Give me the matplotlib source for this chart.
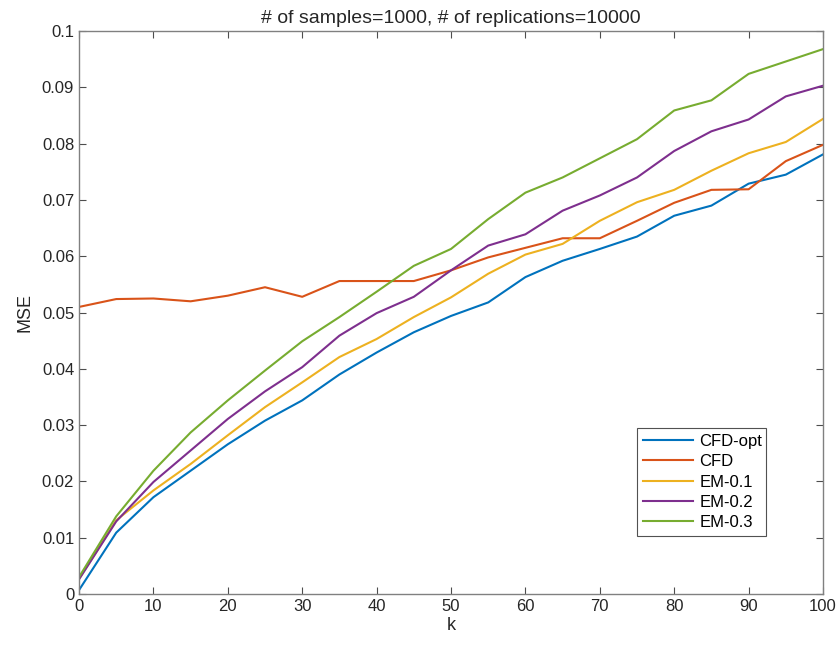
import numpy as np
import matplotlib.pyplot as plt

plt.rcParams['font.family'] = ['Liberation Sans', 'DejaVu Sans']

k = [0, 5, 10, 15, 20, 25, 30, 35, 40, 45, 50, 55, 60, 65, 70, 75, 80, 85, 90, 95, 100]

cfd_opt = [0.0007, 0.0109, 0.0172, 0.0219, 0.0266, 0.0308, 0.0344, 0.0390, 0.0429, 0.0465, 0.0494,
           0.0518, 0.0563, 0.0592, 0.0613, 0.0635, 0.0672, 0.0690, 0.0729, 0.0745, 0.0781]
cfd = [0.0510, 0.0524, 0.0525, 0.0520, 0.0530, 0.0545, 0.0528, 0.0556, 0.0556, 0.0556, 0.0575,
       0.0598, 0.0615, 0.0632, 0.0632, 0.0663, 0.0695, 0.0718, 0.0719, 0.0769, 0.0798]
em_01 = [0.0027, 0.0131, 0.0184, 0.0231, 0.0282, 0.0332, 0.0376, 0.0421, 0.0453, 0.0492, 0.0527,
         0.0569, 0.0603, 0.0622, 0.0663, 0.0696, 0.0718, 0.0752, 0.0783, 0.0803, 0.0844]
em_02 = [0.0026, 0.0129, 0.0199, 0.0255, 0.0311, 0.0360, 0.0403, 0.0459, 0.0499, 0.0528, 0.0575,
         0.0619, 0.0639, 0.0681, 0.0708, 0.0740, 0.0787, 0.0822, 0.0843, 0.0884, 0.0903]
em_03 = [0.0030, 0.0138, 0.0219, 0.0287, 0.0344, 0.0397, 0.0449, 0.0492, 0.0537, 0.0583, 0.0613,
         0.0666, 0.0713, 0.0740, 0.0774, 0.0808, 0.0859, 0.0877, 0.0924, 0.0946, 0.0968]

series = [cfd_opt, cfd, em_01, em_02, em_03]
labels = ['CFD-opt', 'CFD', 'EM-0.1', 'EM-0.2', 'EM-0.3']
colors = [(0, 0.447, 0.741), (0.85, 0.325, 0.098), (0.929, 0.694, 0.125),
          (0.494, 0.184, 0.556), (0.466, 0.674, 0.188)]

fig = plt.figure(figsize=(8.38, 6.48), dpi=100)
ax = fig.add_axes([0.0943, 0.0833, 0.8878, 0.8687])

for y, lab, c in zip(series, labels, colors):
    ax.plot(k, y, color=c, linewidth=1.5, label=lab)

ax.set_xlim(0, 100)
ax.set_ylim(0, 0.1)
ax.set_xticks(np.arange(0, 101, 10))
ax.set_yticks(np.arange(0, 0.101, 0.01))
ax.set_yticklabels(['0', '0.01', '0.02', '0.03', '0.04', '0.05', '0.06', '0.07', '0.08', '0.09', '0.1'])

axc = (0.15, 0.15, 0.15)
for s in ax.spines.values():
    s.set_color((0.5, 0.5, 0.5))
    s.set_linewidth(1.0)
ax.tick_params(direction='in', top=True, right=True, length=5, width=0.8,
               colors=(0.3, 0.3, 0.3), labelcolor=axc, labelsize=12)

ax.set_xlabel('k', fontsize=13, color=axc, labelpad=2)
ax.set_ylabel('MSE', fontsize=13, color=axc, labelpad=6)
ax.set_title('# of samples=1000, # of replications=10000', fontsize=14, color=axc, pad=6)

leg = ax.legend(loc='lower left', bbox_to_anchor=(0.75, 0.103, 0.174, 0.192), mode='expand',
                fontsize=12, frameon=True, fancybox=False, borderpad=0.35, labelspacing=0.32,
                handlelength=3.0, handletextpad=0.4, borderaxespad=0)
leg.get_frame().set_edgecolor((0.15, 0.15, 0.15))
leg.get_frame().set_linewidth(0.8)

fig.savefig('out.png', dpi=100)
